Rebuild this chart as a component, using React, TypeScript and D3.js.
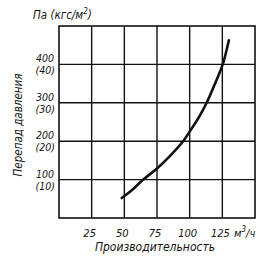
import React from "react";
import * as d3 from "d3";

const xTicks = [25, 50, 75, 100, 125];
const yTicks = [100, 200, 300, 400];
const yTicksAlt = ["(10)", "(20)", "(30)", "(40)"];
const flowValues = [48, 55, 64.5, 75, 85, 95, 100, 107, 113, 120, 125.3, 130];
const pressureValues = [52, 70, 100, 129, 162, 200, 225, 262, 300, 355, 400, 463];

const W = 280, H = 265;
const FONT = "'DejaVu Sans Condensed', 'Liberation Sans Narrow', 'DejaVu Sans', sans-serif";

export default function App() {
  const x = d3.scaleLinear().domain([0, 150]).range([59, 255]);
  const y = d3.scaleLinear().domain([0, 500]).range([218, 26]);
  const pts: [number, number][] = flowValues.map((f, i) => [f, pressureValues[i]]);
  const line = d3.line<[number, number]>().x(d => x(d[0])).y(d => y(d[1])).curve(d3.curveCatmullRom.alpha(0.5));
  const color = "#111";
  const ts = { fontFamily: FONT, fontStyle: "italic", fill: color } as React.CSSProperties;
  return (
    <svg width={W} height={H} style={{ position: "absolute", left: 0, top: 0, background: "#fff" }}>
      <rect x={0} y={0} width={W} height={H} fill="#fff" />
      {[...xTicks].map(t => (
        <line key={"gx" + t} x1={x(t)} x2={x(t)} y1={y(0)} y2={y(500)} stroke={color} strokeWidth={1.4} />
      ))}
      {yTicks.map(t => (
        <line key={"gy" + t} x1={x(0)} x2={x(150)} y1={y(t)} y2={y(t)} stroke={color} strokeWidth={1.4} />
      ))}
      <rect x={x(0)} y={y(500)} width={x(150) - x(0)} height={y(0) - y(500)} fill="none" stroke={color} strokeWidth={1.6} />
      <path d={line(pts) || ""} fill="none" stroke={color} strokeWidth={2.6} strokeLinecap="round" />
      {yTicks.map((t, i) => (
        <g key={"yl" + t}>
          <text x={54} y={y(t) - 2} textAnchor="end" fontSize={10.5} style={ts}>{t}</text>
          <text x={55} y={y(t) + 10} textAnchor="end" fontSize={10.5} style={ts}>{yTicksAlt[i]}</text>
        </g>
      ))}
      {xTicks.map(t => (
        <text key={"xl" + t} x={x(t) - 2} y={237} textAnchor="middle" fontSize={11} style={ts}>{t}</text>
      ))}
      <text x={234} y={237} fontSize={11} style={ts}>м<tspan dy={-5} fontSize={8}>3</tspan><tspan dy={5}>/ч</tspan></text>
      <text x={155} y={251} textAnchor="middle" fontSize={12} style={ts}>Производительность</text>
      <text x={33} y={19} fontSize={11.5} style={ts}>Па (кгс/м<tspan dy={-5} fontSize={8}>2</tspan><tspan dy={5}>)</tspan></text>
      <text transform="translate(22,125) rotate(-90)" textAnchor="middle" fontSize={11.5} style={ts}>Перепад давления</text>
    </svg>
  );
}
